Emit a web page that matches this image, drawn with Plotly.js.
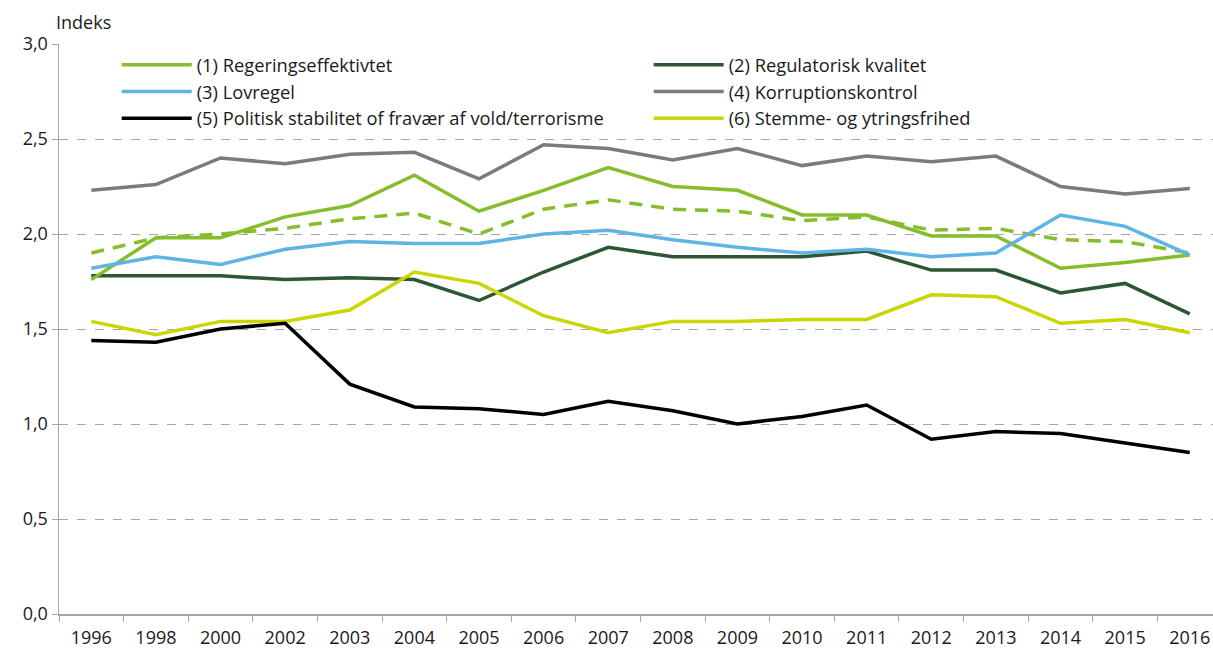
<!DOCTYPE html>
<html>
<head>
<meta charset="utf-8">
<script src="https://cdn.plot.ly/plotly-3.0.1.min.js"></script>
<style>html,body{margin:0;padding:0;background:#fff;}#chart{width:1213px;height:650px;}</style>
</head>
<body>
<div id="chart"></div>
<script>
const years = ["1996","1998","2000","2002","2003","2004","2005","2006","2007","2008","2009","2010","2011","2012","2013","2014","2015","2016"];
const regeringseffektivitet = [1.76,1.98,1.98,2.09,2.15,2.31,2.12,2.23,2.35,2.25,2.23,2.10,2.10,1.99,1.99,1.82,1.85,1.89];
const regeringseffektivitetStiplet = [1.90,1.98,2.00,2.03,2.08,2.11,2.00,2.13,2.18,2.13,2.12,2.07,2.09,2.02,2.03,1.97,1.96,1.90];
const regulatoriskKvalitet = [1.78,1.78,1.78,1.76,1.77,1.76,1.65,1.80,1.93,1.88,1.88,1.88,1.91,1.81,1.81,1.69,1.74,1.58];
const lovregel = [1.82,1.88,1.84,1.92,1.96,1.95,1.95,2.00,2.02,1.97,1.93,1.90,1.92,1.88,1.90,2.10,2.04,1.89];
const korruptionskontrol = [2.23,2.26,2.40,2.37,2.42,2.43,2.29,2.47,2.45,2.39,2.45,2.36,2.41,2.38,2.41,2.25,2.21,2.24];
const politiskStabilitet = [1.44,1.43,1.50,1.53,1.21,1.09,1.08,1.05,1.12,1.07,1.00,1.04,1.10,0.92,0.96,0.95,0.90,0.85];
const stemmeYtringsfrihed = [1.54,1.47,1.54,1.54,1.60,1.80,1.74,1.57,1.48,1.54,1.54,1.55,1.55,1.68,1.67,1.53,1.55,1.48];
const names = ["(1) Regeringseffektivtet","(2) Regulatorisk kvalitet","(3) Lovregel","(4) Korruptionskontrol","(5) Politisk stabilitet of fravær af vold/terrorisme","(6) Stemme- og ytringsfrihed"];

const W = 3.5;
function tr(y, name, color, legend, extra) {
  return Object.assign({type:'scatter', mode:'lines', x:years, y:y, name:name, legend:legend,
    line:{color:color, width:W}, hoverinfo:'x+y+name'}, extra||{});
}
const data = [
  tr(regulatoriskKvalitet, names[1], '#2e5634', 'legend2'),
  tr(korruptionskontrol, names[3], '#7b7b7b', 'legend2'),
  tr(stemmeYtringsfrihed, names[5], '#cad600', 'legend2'),
  tr(regeringseffektivitetStiplet, 'Regeringseffektivitet (stiplet)', '#85bd2b', 'legend', {showlegend:false, line:{color:'#85bd2b', width:W, dash:'13px,9px'}}),
  tr(regeringseffektivitet, names[0], '#85bd2b', 'legend'),
  tr(lovregel, names[2], '#5db4e5', 'legend'),
  tr(politiskStabilitet, names[4], '#000000', 'legend')
];
const FS = 18;
const legendFont = {family:'"Open Sans", sans-serif', size:18.3, color:'#1a1a1a'};
const layout = {
  width:1213, height:650,
  margin:{l:59, r:0, t:44, b:36, pad:0},
  paper_bgcolor:'#fff', plot_bgcolor:'#fff',
  separators:',.',
  font:{family:'"Open Sans", sans-serif', size:FS, color:'#1a1a1a'},
  showlegend:true,
  legend:{x:0.05, y:0.996, xanchor:'left', yanchor:'top', bgcolor:'rgba(0,0,0,0)', font:legendFont, itemwidth:70, traceorder:'normal'},
  legend2:{x:0.511, y:0.996, xanchor:'left', yanchor:'top', bgcolor:'rgba(0,0,0,0)', font:legendFont, itemwidth:70, traceorder:'normal'},
  xaxis:{type:'category', range:[-0.5, 17.36], tickson:'boundaries', ticks:'outside', ticklen:6, tickcolor:'#a6a6a6', tickwidth:1,
    showline:true, linecolor:'#a6a6a6', linewidth:2, showgrid:false, zeroline:false, tickangle:0, fixedrange:true,
    ticklabelstandoff:6, tickfont:{size:FS, color:'#1a1a1a'}},
  yaxis:{range:[0,3], dtick:0.5, tick0:0, tickformat:'.1f', ticks:'outside', ticklen:6, tickcolor:'#a6a6a6',
    showline:true, linecolor:'#a6a6a6', linewidth:1.5, showgrid:true, gridcolor:'#a6a6a6', gridwidth:1, griddash:'dash',
    zeroline:false, fixedrange:true, tickfont:{size:FS, color:'#1a1a1a'}},
  annotations:[{text:'Indeks', xref:'paper', yref:'paper', x:0, y:1, xanchor:'left', yanchor:'bottom', xshift:-5, yshift:8,
    showarrow:false, font:{size:FS, color:'#1a1a1a'}}]
};
Plotly.newPlot('chart', data, layout, {displayModeBar:false, staticPlot:true});
</script>
</body>
</html>
